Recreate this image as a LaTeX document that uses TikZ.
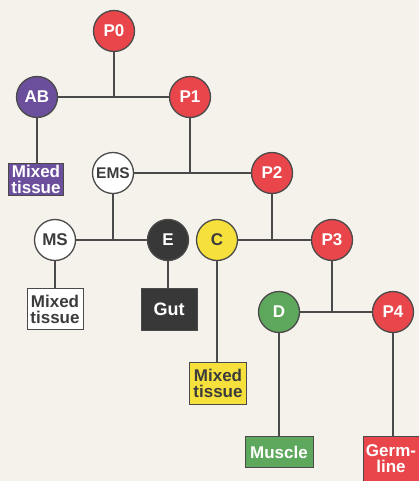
\documentclass[tikz,border=0pt]{standalone}
\usepackage{fontspec}
\setmainfont{Liberation Sans}
\definecolor{bg}{HTML}{F4F2EA}
\definecolor{cred}{HTML}{E8464A}
\definecolor{cpurple}{HTML}{6B4F9C}
\definecolor{cyellow}{HTML}{F6E13C}
\definecolor{cgreen}{HTML}{5DA85C}
\definecolor{cdark}{HTML}{383838}
\definecolor{cline}{HTML}{4A4A4A}
\definecolor{ctxtgray}{HTML}{3C3C3C}
\begin{document}
\begin{tikzpicture}[x=1pt,y=-1pt,
  cell/.style={circle,draw=cline,line width=1.3pt,minimum size=41pt,inner sep=0pt,font=\bfseries\fontsize{17}{17}\selectfont},
  tbox/.style={rectangle,draw=cline,line width=1pt,inner sep=0.5pt,align=center,font=\bfseries\fontsize{17}{16}\selectfont},
  conn/.style={draw=cline,line width=1.6pt}]
\fill[bg] (0,0) rectangle (419,481);
\useasboundingbox (0,0) rectangle (419,481);
% cells
\node[cell,fill=cred,text=white] (P0) at (114,31) {P0};
\node[cell,fill=cpurple,text=white] (AB) at (37,97) {AB};
\node[cell,fill=cred,text=white] (P1) at (190,97) {P1};
\node[cell,fill=white,text=ctxtgray,font=\bfseries\fontsize{15.5}{15.5}\selectfont] (EMS) at (113,173) {EMS};
\node[cell,fill=cred,text=white] (P2) at (272,173) {P2};
\node[cell,fill=white,text=ctxtgray] (MS) at (55,240) {MS};
\node[cell,fill=cdark,text=white] (E) at (168,240) {E};
\node[cell,fill=cyellow,text=ctxtgray] (C) at (217,240) {C};
\node[cell,fill=cred,text=white] (P3) at (332,240) {P3};
\node[cell,fill=cgreen,text=white] (D) at (279,312) {D};
\node[cell,fill=cred,text=white] (P4) at (393,312) {P4};
% tissues
\node[tbox,fill=cpurple,text=white,minimum width=55pt,minimum height=32pt] (ABt) at (36,179) {Mixed\\tissue};
\node[tbox,fill=white,text=ctxtgray,minimum width=56pt,minimum height=41pt] (MSt) at (55,309) {Mixed\\tissue};
\node[tbox,fill=cdark,text=white,minimum width=56pt,minimum height=42pt,font=\bfseries\fontsize{18}{18}\selectfont] (Gut) at (169,309) {Gut};
\node[tbox,fill=cyellow,text=ctxtgray,minimum width=57pt,minimum height=42pt] (Ct) at (218,383) {Mixed\\tissue};
\node[tbox,fill=cgreen,text=white,minimum width=68pt,minimum height=31pt] (Mus) at (279,452) {Muscle};
\node[tbox,fill=cred,text=white,minimum width=56pt,minimum height=46pt] (Germ) at (391,459) {Germ-\\line};
% connectors
\draw[conn] (AB) -- (P1);
\draw[conn] (P0) -- (P0 |- AB);
\draw[conn] (AB) -- (AB |- ABt.north);
\draw[conn] (EMS) -- (P2);
\draw[conn] (P1) -- (P1 |- EMS);
\draw[conn] (MS) -- (E);
\draw[conn] (EMS) -- (EMS |- MS);
\draw[conn] (MS) -- (MS |- MSt.north);
\draw[conn] (E) -- (E |- Gut.north);
\draw[conn] (C) -- (P3);
\draw[conn] (P2) -- (P2 |- C);
\draw[conn] (C) -- (C |- Ct.north);
\draw[conn] (D) -- (P4);
\draw[conn] (P3) -- (P3 |- D);
\draw[conn] (D) -- (D |- Mus.north);
\draw[conn] (P4) -- (P4 |- Germ.north);
\end{tikzpicture}
\end{document}
